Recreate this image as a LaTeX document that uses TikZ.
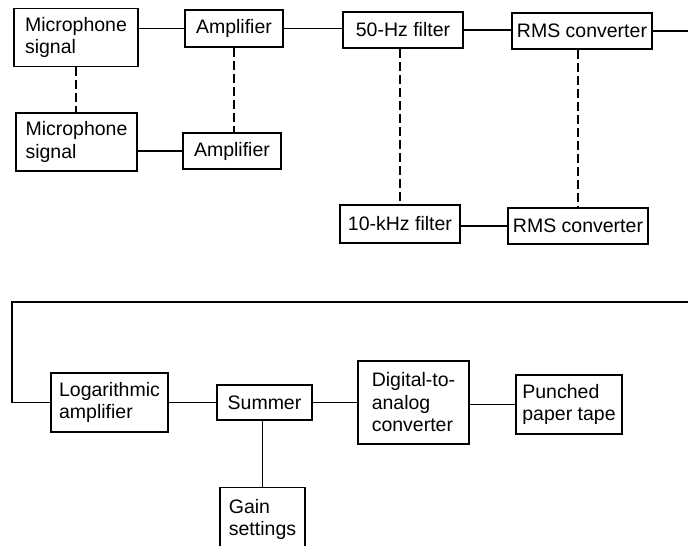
\documentclass[tikz,border=0pt]{standalone}
\usepackage{fontspec}
\setmainfont{Liberation Sans}
\begin{document}
\begin{tikzpicture}[x=1pt,y=-1pt,
  blk/.style={draw, line width=1.4pt, inner sep=0pt, align=left,
    font=\fontsize{19.5}{22.5}\selectfont},
  wire/.style={line width=1.4pt},
  dwire/.style={line width=1.4pt, dash pattern=on 9pt off 4pt}]
\useasboundingbox (0,0) rectangle (688,546);
\clip (0,0) rectangle (688,546);
% top section
\node[blk, minimum width=124pt, minimum height=58pt] (m1) at (76,37.5) {Microphone\\signal};
\node[blk, minimum width=121pt, minimum height=58pt] (m2) at (76.5,142) {Microphone\\signal};
\node[blk, minimum width=98pt, minimum height=37pt] (a1) at (234,28.5) {Amplifier};
\node[blk, minimum width=98pt, minimum height=36pt] (a2) at (232,151) {Amplifier};
\node[blk, minimum width=120pt, minimum height=36pt] (f1) at (403,30) {50-Hz filter};
\node[blk, minimum width=140pt, minimum height=36pt] (r1) at (582,31) {RMS converter};
\node[blk, minimum width=120pt, minimum height=38pt] (f2) at (400,224) {10-kHz filter};
\node[blk, minimum width=140pt, minimum height=36pt] (r2) at (578,226) {RMS converter};
\coordinate (outR) at (688,31);
% bottom section
\coordinate (inR) at (688,302);
\coordinate (inL) at (12,302);
\node[blk, minimum width=117pt, minimum height=59pt] (lg) at (109.5,402.5) {Logarithmic\\amplifier};
\node[blk, minimum width=95pt, minimum height=35pt] (sm) at (264.5,402.5) {Summer};
\node[blk, minimum width=111pt, minimum height=83pt] (dac) at (413.5,402.5) {Digital-to-\\analog\\converter};
\node[blk, minimum width=106pt, minimum height=59pt] (pt) at (569,404.5) {Punched\\paper tape};
\node[blk, minimum width=85pt, minimum height=64pt, anchor=north] (gs) at (262.5,487) {Gain\\settings};
% connectors
\draw[wire] (m1.east |- a1.west) -- (a1.west);
\draw[wire] (m2.east |- a2.west) -- (a2.west);
\draw[wire] (a1.east) -- (f1.west |- a1.east);
\draw[wire] (f1.east) -- (r1.west |- f1.east);
\draw[wire] (r1.east) -- (outR);
\draw[wire] (f2.east |- r2.west) -- (r2.west);
\draw[dwire] (m1.south) -- (m1.south |- m2.north);
\draw[dwire] (a1.south) -- (a1.south |- a2.north);
\draw[dwire] (f1.south -| f2.north) -- (f2.north);
\draw[dwire] (r1.south -| r2.north) -- (r2.north);
\draw[wire] (inR) -- (inL) |- (lg.west);
\draw[wire] (lg.east) -- (sm.west);
\draw[wire] (sm.east) -- (sm.east -| dac.west);
\draw[wire] (dac.east |- pt.west) -- (pt.west);
\draw[wire] (sm.south -| gs.north) -- (gs.north);
\end{tikzpicture}
\end{document}
